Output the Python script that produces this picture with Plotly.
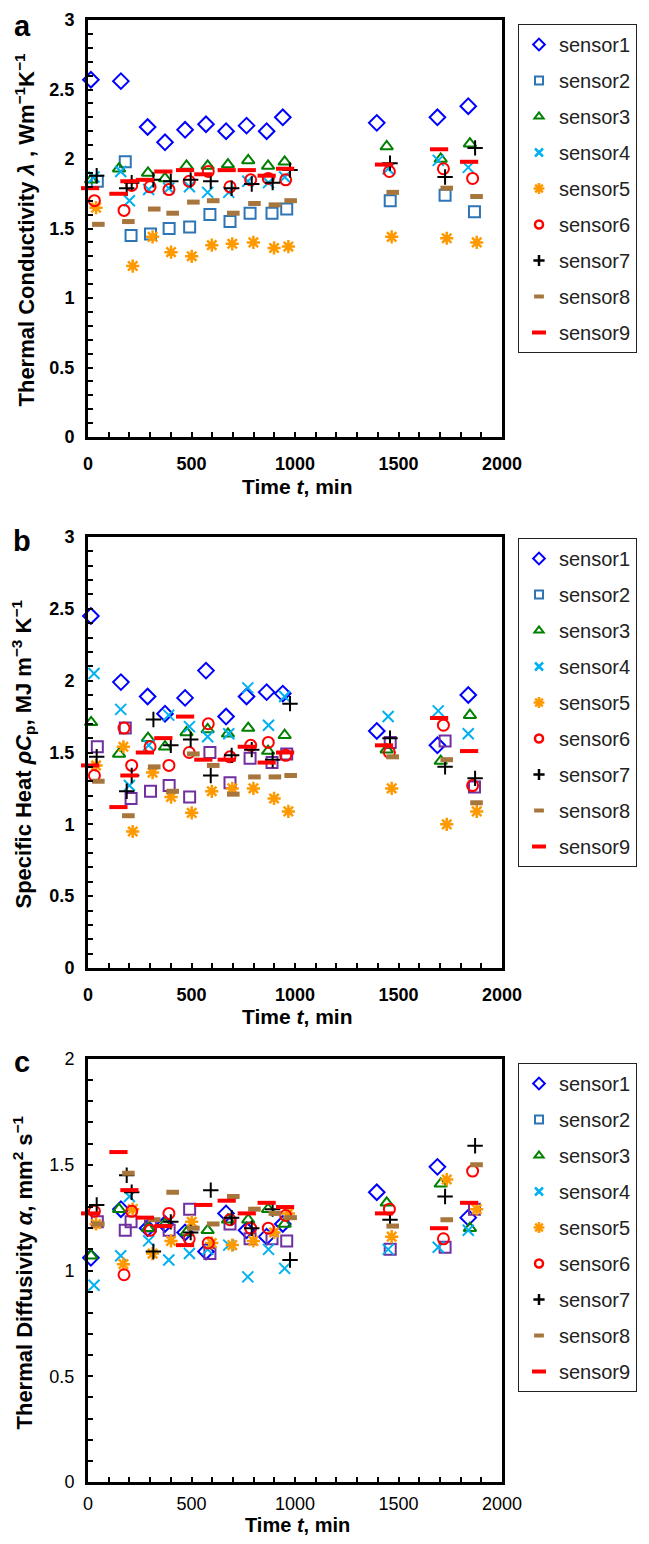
import plotly.graph_objects as go

# measurement times (min) per sensor, shared by the three panels
t_s1 = [14, 159, 288, 372, 469, 570, 667, 766, 863, 941, 1395, 1688, 1837]
t_s2 = [45, 180, 208, 302, 392, 491, 589, 686, 783, 889, 960, 1460, 1725, 1867]
t_s3 = [15, 150, 290, 372, 476, 578, 676, 774, 870, 950, 1443, 1704, 1845]
t_s4 = [29, 158, 200, 293, 390, 490, 578, 680, 772, 872, 950, 1450, 1692, 1837]
t_s5 = [39, 171, 216, 312, 401, 501, 598, 697, 799, 899, 968, 1467, 1733, 1878]
t_s6 = [31, 174, 211, 300, 391, 489, 581, 686, 786, 871, 955, 1456, 1717, 1858]
t_s7 = [42, 187, 211, 316, 400, 496, 593, 694, 791, 892, 976, 1459, 1725, 1870]
t_s8 = [50, 195, 320, 409, 509, 605, 702, 804, 903, 979, 1472, 1733, 1877]
t_s9 = [10, 147, 200, 275, 364, 469, 557, 670, 767, 863, 952, 1430, 1696, 1841]

# a: thermal conductivity
a_s1 = [2.57, 2.56, 2.23, 2.12, 2.21, 2.25, 2.20, 2.24, 2.20, 2.30, 2.26, 2.30, 2.38]
a_s2 = [1.84, 1.98, 1.45, 1.46, 1.50, 1.51, 1.60, 1.55, 1.61, 1.61, 1.64, 1.70, 1.74, 1.62]
a_s3 = [1.85, 1.93, 1.90, 1.86, 1.95, 1.95, 1.96, 1.99, 1.95, 1.98, 2.09, 2.00, 2.11]
a_s4 = [1.87, 1.91, 1.70, 1.78, 1.79, 1.80, 1.76, 1.76, 1.84, 1.83, 1.87, 1.93, 1.99, 1.94]
a_s5 = [1.65, None, 1.23, 1.44, 1.33, 1.30, 1.38, 1.39, 1.40, 1.36, 1.37, 1.44, 1.43, 1.40]
a_s6 = [1.70, 1.63, 1.81, 1.80, 1.78, 1.84, 1.91, 1.80, 1.85, 1.86, 1.85, 1.91, 1.93, 1.86]
a_s7 = [1.88, 1.79, 1.83, 1.85, 1.84, 1.85, 1.84, 1.79, 1.82, 1.83, 1.92, 1.97, 1.87, 2.08]
a_s8 = [1.53, 1.55, 1.64, 1.61, 1.69, 1.70, 1.61, 1.68, 1.67, 1.70, 1.76, 1.79, 1.73]
a_s9 = [1.79, 1.75, 1.84, 1.85, 1.91, 1.92, 1.89, 1.92, 1.92, 1.88, 1.93, 1.96, 2.07, 1.98]

# b: specific heat
b_s1 = [2.45, 1.99, 1.89, 1.77, 1.88, 2.07, 1.75, 1.89, 1.92, 1.91, 1.65, 1.55, 1.90]
b_s2 = [1.54, 1.67, 1.18, 1.23, 1.27, 1.19, 1.50, 1.29, 1.46, 1.43, 1.49, 1.57, 1.58, 1.26]
b_s3 = [1.71, 1.49, 1.60, 1.54, 1.64, 1.66, 1.63, 1.67, 1.51, 1.62, 1.52, 1.44, 1.76]
b_s4 = [2.05, 1.80, 1.27, 1.55, 1.76, 1.68, 1.61, 1.63, 1.95, 1.69, 1.89, 1.75, 1.79, 1.63]
b_s5 = [1.41, 1.54, 0.95, 1.36, 1.19, 1.08, 1.23, 1.25, 1.25, 1.18, 1.09, 1.25, 1.00, 1.09]
b_s6 = [1.34, 1.67, 1.41, 1.54, 1.41, 1.50, 1.70, 1.47, 1.55, 1.57, 1.48, 1.50, 1.69, 1.27]
b_s7 = [1.47, 1.23, 1.34, 1.73, 1.55, 1.59, 1.34, 1.48, 1.52, 1.45, 1.84, 1.60, 1.40, 1.32]
b_s8 = [1.30, 1.06, 1.40, 1.23, 1.49, 1.41, 1.21, 1.33, 1.33, 1.34, 1.47, 1.45, 1.15]
b_s9 = [1.41, 1.12, 1.34, 1.50, 1.60, 1.75, 1.45, 1.45, 1.54, 1.43, 1.50, 1.55, 1.74, 1.51]

# c: thermal diffusivity
c_s1 = [1.06, 1.29, 1.20, 1.22, 1.18, 1.09, 1.27, 1.19, 1.16, 1.22, 1.37, 1.49, 1.25]
c_s2 = [1.23, 1.19, 1.23, 1.21, 1.19, 1.29, 1.08, 1.22, 1.15, 1.15, 1.14, 1.10, 1.11, 1.29]
c_s3 = [1.07, 1.29, 1.20, 1.22, 1.18, 1.19, 1.24, 1.24, 1.29, 1.22, 1.32, 1.41, 1.20]
c_s4 = [0.93, 1.07, 1.35, 1.14, 1.05, 1.08, 1.10, 1.12, 0.97, 1.10, 1.01, 1.10, 1.11, 1.19]
c_s5 = [1.22, 1.03, 1.29, 1.08, 1.14, 1.23, 1.13, 1.12, 1.14, 1.18, 1.27, 1.16, 1.43, 1.29]
c_s6 = [1.28, 0.98, 1.28, 1.19, 1.27, 1.15, 1.13, 1.24, 1.20, 1.20, 1.26, 1.29, 1.15, 1.47]
c_s7 = [1.31, 1.45, 1.37, 1.09, 1.23, 1.18, 1.38, 1.25, 1.20, 1.29, 1.05, 1.24, 1.35, 1.59]
c_s8 = [1.22, 1.46, 1.24, 1.37, 1.20, 1.22, 1.35, 1.29, 1.27, 1.25, 1.21, 1.24, 1.50]
c_s9 = [1.27, 1.56, 1.38, 1.25, 1.21, 1.12, 1.31, 1.33, 1.27, 1.32, 1.30, 1.27, 1.20, 1.32]

names = ['sensor1', 'sensor2', 'sensor3', 'sensor4', 'sensor5',
         'sensor6', 'sensor7', 'sensor8', 'sensor9']
times = [t_s1, t_s2, t_s3, t_s4, t_s5, t_s6, t_s7, t_s8, t_s9]
panel_a = [a_s1, a_s2, a_s3, a_s4, a_s5, a_s6, a_s7, a_s8, a_s9]
panel_b = [b_s1, b_s2, b_s3, b_s4, b_s5, b_s6, b_s7, b_s8, b_s9]
panel_c = [c_s1, c_s2, c_s3, c_s4, c_s5, c_s6, c_s7, c_s8, c_s9]

# symbol, colour, size, line width (plot) ; legend size, legend line width
styles = [
    ('diamond-open', '#0000FF', 12, 2, 9, 2),
    ('square-open', '#2E75B6', 11, 2, 8, 2),
    ('triangle-up-open', '#008000', 11, 2, 8, 2),
    ('x-thin-open', '#00B0F0', 11, 2, 8, 2.5),
    ('asterisk-open', '#FF9900', 11, 2.5, 9, 2.5),
    ('circle-open', '#FF0000', 11, 2, 8, 2.5),
    ('cross-thin-open', '#000000', 11, 2, 8, 2.5),
    ('line-ew-open', '#A6763C', 9, 5, 7, 4),
    ('line-ew-open', '#FF0000', 13, 4, 10, 4),
]
PURPLE = '#7030A0'
FONT = 'Arial, Liberation Sans, sans-serif'

# the page has an 8px body margin, so the figure is drawn 8px in and 8px down;
# keep it short enough that the page does not scroll
OFF = 8
W, H = 649 - OFF, 1544 - 2 * OFF
def px(x):
    return (x - OFF) / W
def py(y):
    return 1 - (y - OFF) / H

# plot boxes in page pixels: (top, bottom)
boxes = [(20, 437), (537, 968), (1059, 1482)]
X0, X1 = 88, 502

fig = go.Figure()

def add_panel(k, values, legend_name, purple_s2):
    xa = 'x' if k == 0 else 'x' + str(k + 1)
    ya = 'y' if k == 0 else 'y' + str(k + 1)
    for i in range(9):
        sym, col, size, lw, lsize, llw = styles[i]
        # legend entry with its own (smaller) marker
        fig.add_trace(go.Scatter(x=[None], y=[None], mode='markers', name=names[i],
                                 marker=dict(symbol=sym, color=col, size=lsize, line=dict(color=col, width=llw)),
                                 xaxis=xa, yaxis=ya, legend=legend_name, legendgroup=legend_name + str(i)))
        if i == 1 and purple_s2:
            col = PURPLE
        fig.add_trace(go.Scatter(x=times[i], y=values[i], mode='markers', name=names[i],
                                 marker=dict(symbol=sym, color=col, size=size, line=dict(color=col, width=lw)),
                                 xaxis=xa, yaxis=ya, cliponaxis=False, showlegend=False,
                                 legend=legend_name, legendgroup=legend_name + str(i)))

add_panel(0, panel_a, 'legend', False)
add_panel(1, panel_b, 'legend2', True)
add_panel(2, panel_c, 'legend3', True)

ymax = [3, 3, 2]
tickfonts = [dict(family=FONT, size=18, color='black', weight='bold'),
             dict(family=FONT, size=18, color='black', weight='bold'),
             dict(family=FONT, size=18, color='black')]
xstandoff = [8, 8, 3]
layout = dict(width=W, height=H, margin=dict(l=0, r=0, t=0, b=0, autoexpand=False),
              template='none', paper_bgcolor='white', plot_bgcolor='white')
for k in range(3):
    top, bot = boxes[k]
    sfx = '' if k == 0 else str(k + 1)
    layout['xaxis' + sfx] = dict(domain=[px(X0), px(X1)], range=[0, 2000], anchor='y' + sfx,
                                 automargin=False,
                                 dtick=500, tick0=0, ticks='inside', ticklen=5, tickwidth=2,
                                 tickcolor='black', showline=True, linewidth=3, linecolor='black',
                                 mirror=True, showgrid=False, zeroline=False, tickfont=tickfonts[k],
                                 ticklabelstandoff=xstandoff[k],
                                 minor=dict(dtick=100, ticks='inside', ticklen=5, tickwidth=2,
                                            tickcolor='black', showgrid=False))
    layout['yaxis' + sfx] = dict(domain=[py(bot), py(top)], range=[0, ymax[k]], anchor='x' + sfx,
                                 automargin=False,
                                 dtick=0.5, tick0=0, ticks='inside', ticklen=5, tickwidth=2,
                                 tickcolor='black', showline=True, linewidth=3, linecolor='black',
                                 mirror=True, showgrid=False, zeroline=False, tickfont=tickfonts[k],
                                 ticklabelstandoff=7,
                                 minor=dict(dtick=0.1, ticks='inside', ticklen=5, tickwidth=2,
                                            tickcolor='black', showgrid=False))

legend_tops = [24, 538, 1063]
for k, name in enumerate(['legend', 'legend2', 'legend3']):
    layout[name] = dict(x=px(518), y=py(legend_tops[k]), xanchor='left', yanchor='top',
                        bgcolor='white', bordercolor='#222222', borderwidth=1,
                        font=dict(family=FONT, size=20, color='#222222'),
                        tracegroupgap=7)
fig.update_layout(**layout)

# panel letters and axis titles
letters = [('a', 8), ('b', 523), ('c', 1044)]
for txt, yy in letters:
    fig.add_annotation(x=px(22), y=py(yy), xref='paper', yref='paper', text='<b>' + txt + '</b>',
                       xanchor='center', yanchor='top', showarrow=False,
                       font=dict(family=FONT, size=29, color='black'))

ytitles = ['<b>Thermal Conductivity <i>λ</i> , Wm<sup>−1</sup>K<sup>−1</sup></b>',
           '<b>Specific Heat <i>ρC</i><sub>p</sub>, MJ m<sup>−3</sup> K<sup>−1</sup></b>',
           '<b>Thermal Diffusivity <i>α</i>, mm<sup>2</sup> s<sup>−1</sup></b>']
ytitle_x = [25, 23, 22]
xtitle_y = [486, 1016, 1525]
xtitle_size = [21, 21, 20]
for k in range(3):
    top, bot = boxes[k]
    fig.add_annotation(x=px(ytitle_x[k]), y=py((top + bot) / 2 + 2), xref='paper', yref='paper',
                       text=ytitles[k], textangle=-90, showarrow=False,
                       xanchor='center', yanchor='middle',
                       font=dict(family=FONT, size=22, color='black'))
    fig.add_annotation(x=px((X0 + X1) / 2 + 2), y=py(xtitle_y[k]), xref='paper', yref='paper',
                       text='<b>Time <i>t</i>, min</b>', showarrow=False,
                       xanchor='center', yanchor='middle',
                       font=dict(family=FONT, size=xtitle_size[k], color='black'))

fig.write_html("out.html")
